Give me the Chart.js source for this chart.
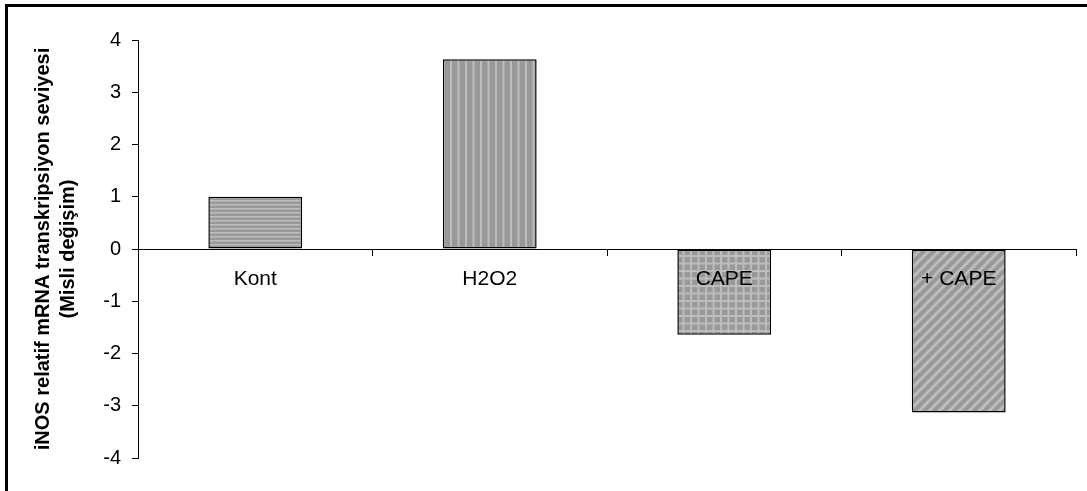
<!DOCTYPE html>
<html>
<head>
<meta charset="utf-8">
<script src="https://cdn.jsdelivr.net/npm/chart.js@4/dist/chart.umd.min.js"></script>
<style>
  html, body { margin: 0; padding: 0; background: #fff; overflow: hidden; }
  #wrap { position: absolute; left: 0; top: 0; width: 1087px; height: 491px; }
  #frame { position: absolute; left: 5px; top: 4px; width: 1200px; height: 600px;
           border-left: 3px solid #000; border-top: 3px solid #000; pointer-events: none; }
</style>
</head>
<body>
<div id="wrap"><canvas id="chart"></canvas></div>
<div id="frame"></div>
<script>
const categories = ['Kont', 'H2O2', 'CAPE', '+ CAPE'];
const values = [1.0, 3.63, -1.64, -3.13];
const yMin = -4;
const yMax = 4;
const yTitle = ['iNOS relatif mRNA transkripsiyon seviyesi', '(Misli değişim)'];

// fill patterns like the old Excel ones
function makePattern(kind) {
    const c = document.createElement('canvas');
    const ctx = c.getContext('2d');
    const base = '#999999', light = '#bdbdbd';
    if (kind === 'hstripe') {
        c.width = 4; c.height = 4;
        ctx.fillStyle = base; ctx.fillRect(0, 0, 4, 4);
        ctx.fillStyle = light; ctx.fillRect(0, 0, 4, 1);
        ctx.fillStyle = '#ababab'; ctx.fillRect(0, 1, 4, 1);
    } else if (kind === 'vstripe') {
        c.width = 15; c.height = 4;
        ctx.fillStyle = base; ctx.fillRect(0, 0, 15, 4);
        ctx.fillStyle = light; ctx.fillRect(0, 0, 2, 4); ctx.fillRect(7.5, 0, 2, 4);
    } else if (kind === 'grid') {
        c.width = 15; c.height = 15;
        ctx.fillStyle = base; ctx.fillRect(0, 0, 15, 15);
        ctx.fillStyle = light;
        ctx.fillRect(0, 0, 2, 15); ctx.fillRect(7.5, 0, 2, 15);
        ctx.fillRect(0, 0, 15, 2); ctx.fillRect(0, 7.5, 15, 2);
    } else {
        c.width = 10; c.height = 10;
        ctx.fillStyle = base; ctx.fillRect(0, 0, 10, 10);
        ctx.strokeStyle = light; ctx.lineWidth = 3;
        ctx.beginPath();
        ctx.moveTo(-2, 12); ctx.lineTo(12, -2);
        ctx.moveTo(-7, 7); ctx.lineTo(7, -7);
        ctx.moveTo(3, 17); ctx.lineTo(17, 3);
        ctx.stroke();
    }
    return ctx.createPattern(c, 'repeat');
}

const fills = [makePattern('hstripe'), makePattern('vstripe'), makePattern('grid'), makePattern('diag')];

new Chart(document.getElementById('chart'), {
    type: 'bar',
    data: {
        labels: categories,
        datasets: [{
            data: values,
            backgroundColor: fills,
            borderColor: '#000',
            borderWidth: 1.5,
            borderSkipped: false,
            barPercentage: 1,
            categoryPercentage: 0.4,
        }],
    },
    options: {
        responsive: true,
        maintainAspectRatio: false,
        animation: false,
        layout: { padding: { left: 0, top: 40, right: 11, bottom: 33 } },
        plugins: {
            legend: { display: false },
            tooltip: { enabled: false },
        },
        scales: {
            x: {
                position: { y: 0 },
                offset: true,
                afterFit: (s) => { s.height = 0; },
                grid: {
                    drawOnChartArea: false,
                    drawTicks: true,
                    tickLength: 6,
                    tickColor: '#000',
                    offset: true,
                },
                border: { color: '#000', width: 1, z: 1 },
                ticks: {
                    z: 1,
                    color: '#000',
                    padding: 12,
                    maxRotation: 0,
                    autoSkip: false,
                    font: { family: 'Liberation Sans, Arial, sans-serif', size: 21 },
                },
            },
            y: {
                min: yMin,
                max: yMax,
                afterFit: (s) => { s.width = 138; },
                grid: {
                    drawOnChartArea: false,
                    drawTicks: true,
                    tickLength: 6,
                    tickColor: '#000',
                },
                border: { color: '#000', width: 1 },
                ticks: {
                    stepSize: 1,
                    color: '#000',
                    padding: 11,
                    font: { family: 'Liberation Sans, Arial, sans-serif', size: 20 },
                },
                title: {
                    display: true,
                    text: yTitle,
                    color: '#000',
                    padding: { top: 31, bottom: 0 },
                    font: { family: 'Liberation Sans, Arial, sans-serif', size: 20, weight: 'bold', lineHeight: 1.25 },
                },
            },
        },
    },
});
</script>
</body>
</html>
